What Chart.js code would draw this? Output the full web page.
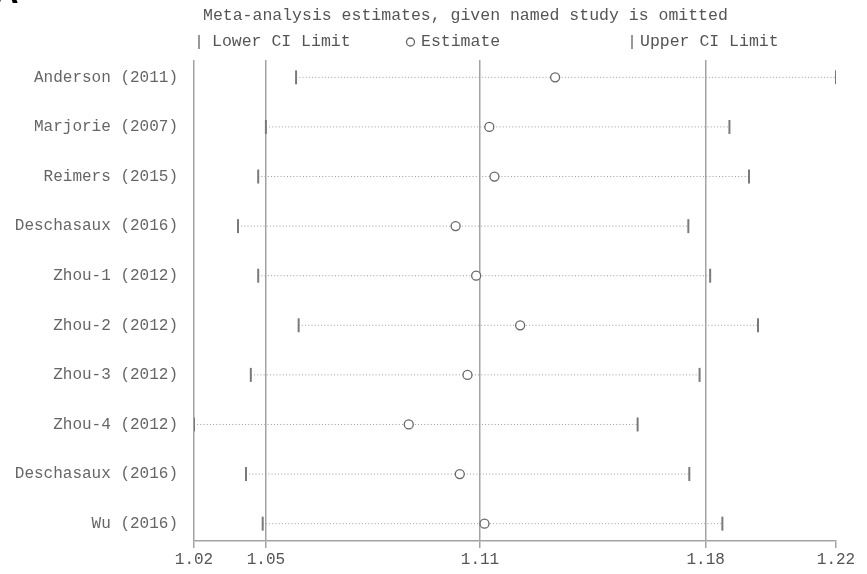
<!DOCTYPE html>
<html>
<head>
<meta charset="utf-8">
<script src="https://cdn.jsdelivr.net/npm/chart.js@4/dist/chart.umd.min.js"></script>
<style>
  body { margin: 0; background: #fff; }
  canvas { display: block; }
</style>
</head>
<body>
<canvas id="grafico" width="867" height="574"></canvas>
<script>
// estudos (linhas de cima para baixo)
var studies = ["Anderson (2011)", "Marjorie (2007)", "Reimers (2015)", "Deschasaux (2016)",
  "Zhou-1 (2012)", "Zhou-2 (2012)", "Zhou-3 (2012)", "Zhou-4 (2012)", "Deschasaux (2016)", "Wu (2016)"];
var lowerCI   = [1.0518, 1.0424, 1.0400, 1.0337, 1.0400, 1.0526, 1.0377, 1.0200, 1.0362, 1.0414];
var estimates = [1.1325, 1.1120, 1.1136, 1.1015, 1.1079, 1.1216, 1.1052, 1.0869, 1.1028, 1.1105];
var upperCI   = [1.2200, 1.1868, 1.1929, 1.1740, 1.1808, 1.1957, 1.1775, 1.1582, 1.1743, 1.1846];

// eixo x
var tickValues = [1.02, 1.0424, 1.1091, 1.1794, 1.22];
var tickLabels = ["1.02", "1.05", "1.11", "1.18", "1.22"];

var titulo = "Meta-analysis estimates, given named study is omitted";
var legendLabels = ["Lower CI Limit", "Estimate", "Upper CI Limit"];

var cinza = "#a3a3a3";
var fonte = "'Liberation Mono', 'DejaVu Sans Mono', monospace";

var datasets = [];
datasets.push({
  label: legendLabels[1],
  data: estimates.map(function (e, i) { return { x: e, y: i }; }),
  pointStyle: "circle",
  pointRadius: 4.5,
  pointBackgroundColor: "#fff",
  pointBorderColor: "#666",
  pointBorderWidth: 1.3,
  order: 0
});
for (var i = 0; i < studies.length; i++) {
  datasets.push({
    label: studies[i],
    data: [{ x: lowerCI[i], y: i }, { x: upperCI[i], y: i }],
    showLine: true,
    borderColor: "#9c9c9c",
    borderWidth: 1,
    borderDash: [1, 2.2],
    pointStyle: "line",
    pointRotation: 90,
    pointRadius: 7,
    pointBorderColor: "#7a7a7a",
    pointBorderWidth: 2,
    order: 1
  });
}

var textos = {
  id: "textos",
  afterDraw: function (chart) {
    var ctx = chart.ctx;
    ctx.save();
    // letra do painel (cortada no topo)
    ctx.fillStyle = "#000";
    ctx.font = "bold 34px 'Liberation Sans', Arial, sans-serif";
    ctx.textBaseline = "alphabetic";
    ctx.fillText("A", -6, 3);

    ctx.fillStyle = "#555";
    ctx.font = "16.5px " + fonte;
    ctx.textBaseline = "middle";
    ctx.textAlign = "left";
    ctx.fillText(titulo, 203, 16);

    // legenda
    ctx.strokeStyle = "#777";
    ctx.lineWidth = 1.5;
    ctx.beginPath();
    ctx.moveTo(199, 35); ctx.lineTo(199, 49);
    ctx.moveTo(632, 35); ctx.lineTo(632, 49);
    ctx.stroke();
    ctx.lineWidth = 1.3;
    ctx.strokeStyle = "#666";
    ctx.beginPath();
    ctx.arc(410.5, 42, 4, 0, Math.PI * 2);
    ctx.stroke();
    ctx.fillText(legendLabels[0], 212, 42);
    ctx.fillText(legendLabels[1], 421, 42);
    ctx.fillText(legendLabels[2], 640, 42);
    ctx.restore();
  }
};

new Chart(document.getElementById("grafico").getContext("2d"), {
  type: "scatter",
  data: { datasets: datasets },
  options: {
    responsive: false,
    animation: false,
    layout: { padding: { top: 60, right: 31, left: 0, bottom: 0 } },
    plugins: { legend: { display: false }, tooltip: { enabled: false } },
    scales: {
      x: {
        type: "linear",
        min: 1.02,
        max: 1.22,
        afterBuildTicks: function (s) { s.ticks = tickValues.map(function (v) { return { value: v }; }); },
        afterFit: function (s) { s.height = 33; },
        ticks: {
          callback: function (v, idx) { return tickLabels[idx]; },
          autoSkip: false,
          maxRotation: 0,
          padding: 2,
          color: "#555",
          font: { family: fonte, size: 16 }
        },
        grid: {
          color: function (c) { return c.index === tickValues.length - 1 ? "rgba(0,0,0,0)" : cinza; },
          lineWidth: 1.5,
          tickLength: 7,
          tickColor: cinza
        },
        border: { display: true, color: cinza, width: 1.5 }
      },
      y: {
        type: "linear",
        min: -0.35,
        max: 9.35,
        reverse: true,
        afterBuildTicks: function (s) { s.ticks = studies.map(function (n, i) { return { value: i }; }); },
        afterFit: function (s) { s.width = 194; },
        ticks: {
          callback: function (v) { return studies[v]; },
          autoSkip: false,
          padding: 8,
          color: "#666",
          font: { family: fonte, size: 16 }
        },
        grid: { display: false },
        border: { display: false }
      }
    }
  },
  plugins: [textos]
});
</script>
</body>
</html>
